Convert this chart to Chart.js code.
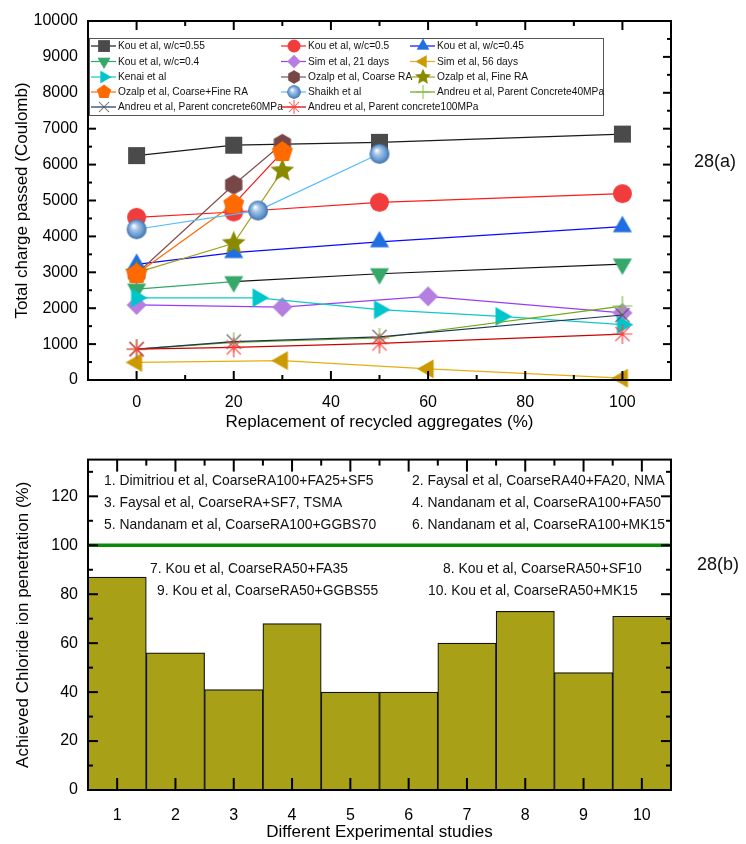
<!DOCTYPE html>
<html>
<head>
<meta charset="utf-8">
<title>Chloride ion penetration of recycled aggregate concrete</title>
<script src="https://cdn.jsdelivr.net/npm/chart.js@4/dist/chart.umd.min.js"></script>
<style>
  html, body { margin: 0; padding: 0; background: #fff; }
  #wrap { position: relative; width: 746px; height: 844px; overflow: hidden; }
  canvas { position: absolute; left: 0; }
  #chargeChart { top: 0; }
  #penetrationChart { top: 440px; }
  .panel-tag { position: absolute; font: 18px "Liberation Sans", Arial, sans-serif; color: #111; }
</style>
</head>
<body>
<div id="wrap">
  <canvas id="chargeChart" width="746" height="440"></canvas>
  <canvas id="penetrationChart" width="746" height="404"></canvas>
  <div class="panel-tag" style="left:694px; top:151px;">28(a)</div>
  <div class="panel-tag" style="left:697px; top:554px;">28(b)</div>
</div>
<script>
// ---------- Panel (a): total charge passed vs. replacement ratio ----------
const kouX = [0, 20, 50, 100];
const kouWc055 = [6250, 6540, 6620, 6850];
const kouWc050 = [4530, 4680, 4950, 5190];
const kouWc045 = [3220, 3550, 3850, 4270];
const kouWc040 = [2530, 2740, 2960, 3230];
const simX = [0, 30, 60, 100];
const sim21Days = [2090, 2030, 2330, 1870];
const sim56Days = [490, 540, 310, 50];
const kenaiX = [0, 25, 50, 75, 100];
const kenai = [2290, 2290, 1960, 1770, 1540];
const ozalpX = [0, 20, 30];
const ozalpCoarse = [2960, 5440, 6580];
const ozalpFine = [2990, 3810, 5830];
const ozalpCoarseFine = [2950, 4900, 6350];
const shaikhX = [0, 25, 50];
const shaikh = [4200, 4720, 6300];
const andreuX = [0, 20, 50, 100];
const andreu40MPa = [860, 1050, 1170, 2060];
const andreu60MPa = [860, 1070, 1200, 1810];
const andreu100MPa = [860, 910, 1020, 1280];

const replacementTicks = [0, 20, 40, 60, 80, 100];
const replacementMinorTicks = [10, 30, 50, 70, 90];
const chargeTicks = [0, 1000, 2000, 3000, 4000, 5000, 6000, 7000, 8000, 9000, 10000];
const chargeMinorTicks = [500, 1500, 2500, 3500, 4500, 5500, 6500, 7500, 8500, 9500];

// ---------- Panel (b): achieved chloride ion penetration ----------
const studies = ['1', '2', '3', '4', '5', '6', '7', '8', '9', '10'];
const penetration = [87, 56, 41, 68, 40, 40, 60, 73, 48, 71];
const referenceLevel = 100;
const penetrationTicks = [0, 20, 40, 60, 80, 100, 120];
const penetrationMinorTicks = [10, 30, 50, 70, 90, 110, 130];
const studyNotes = [
  '1. Dimitriou et al, CoarseRA100+FA25+SF5',
  '2. Faysal et al, CoarseRA40+FA20, NMA',
  '3. Faysal et al, CoarseRA+SF7, TSMA',
  '4. Nandanam et al, CoarseRA100+FA50',
  '5. Nandanam et al, CoarseRA100+GGBS70',
  '6. Nandanam et al, CoarseRA100+MK15',
  '7. Kou et al, CoarseRA50+FA35',
  '8. Kou et al, CoarseRA50+SF10',
  '9. Kou et al, CoarseRA50+GGBS55',
  '10. Kou et al, CoarseRA50+MK15'
];

const FONT = '"Liberation Sans", Arial, Helvetica, sans-serif';
Chart.defaults.font.family = FONT;
Chart.defaults.color = '#000';

// ---------- marker sprites ----------
function polygon(g, c, r, n, startDeg, inner) {
  const steps = inner ? n * 2 : n;
  for (let i = 0; i < steps; i++) {
    const a = (startDeg + i * 360 / steps) * Math.PI / 180;
    const rr = inner && i % 2 ? inner : r;
    const x = c + rr * Math.cos(a), y = c + rr * Math.sin(a);
    if (i === 0) g.moveTo(x, y); else g.lineTo(x, y);
  }
  g.closePath();
}

function makeMarker(shape, r, fill) {
  const size = Math.ceil(2 * r + 4);
  const cv = document.createElement('canvas');
  cv.width = cv.height = size;
  const g = cv.getContext('2d');
  const c = size / 2;
  g.fillStyle = fill;
  g.strokeStyle = fill;
  g.lineWidth = 1.2;
  g.beginPath();
  switch (shape) {
    case 'square': g.rect(c - r, c - r, 2 * r, 2 * r); g.fill(); break;
    case 'circle': g.arc(c, c, r, 0, Math.PI * 2); g.fill(); break;
    case 'triUp': polygon(g, c, r, 3, -90); g.fill(); break;
    case 'triDown': polygon(g, c, r, 3, 90); g.fill(); break;
    case 'triRight': polygon(g, c, r, 3, 0); g.fill(); break;
    case 'triLeft': polygon(g, c, r, 3, 180); g.fill(); break;
    case 'diamond': polygon(g, c, r, 4, -90); g.fill(); break;
    case 'hexagon': polygon(g, c, r, 6, -90); g.fill(); break;
    case 'pentagon': polygon(g, c, r, 5, -90); g.fill(); break;
    case 'star': polygon(g, c, r, 5, -90, r * 0.45); g.fill(); break;
    case 'sphere': {
      const grad = g.createRadialGradient(c - r * 0.3, c - r * 0.35, r * 0.05, c, c, r);
      grad.addColorStop(0, '#ffffff');
      grad.addColorStop(0.3, '#a9c8ea');
      grad.addColorStop(0.75, fill);
      grad.addColorStop(1, '#3f6ea6');
      g.fillStyle = grad;
      g.arc(c, c, r, 0, Math.PI * 2); g.fill(); break;
    }
    case 'plus':
      g.moveTo(c - r, c); g.lineTo(c + r, c); g.moveTo(c, c - r); g.lineTo(c, c + r); g.stroke(); break;
    case 'cross': {
      const d = r * Math.SQRT1_2;
      g.moveTo(c - d, c - d); g.lineTo(c + d, c + d); g.moveTo(c - d, c + d); g.lineTo(c + d, c - d); g.stroke(); break;
    }
    case 'asterisk': {
      const d = r * Math.SQRT1_2;
      g.moveTo(c - r, c); g.lineTo(c + r, c); g.moveTo(c, c - r); g.lineTo(c, c + r);
      g.moveTo(c - d, c - d); g.lineTo(c + d, c + d); g.moveTo(c - d, c + d); g.lineTo(c + d, c - d); g.stroke(); break;
    }
  }
  return cv;
}

function toPoints(xs, ys) { return xs.map((x, i) => ({ x: x, y: ys[i] })); }

function series(label, xs, ys, lineColor, shape, r, fill, laterColor) {
  const ds = {
    label: label,
    data: toPoints(xs, ys),
    borderColor: lineColor,
    borderWidth: 1.2,
    pointStyle: makeMarker(shape, r, fill),
    pointRadius: r,
    pointHoverRadius: r,
    fill: false,
    tension: 0,
    clip: false
  };
  if (laterColor) {
    ds.segment = { borderColor: ctx => (ctx.p0DataIndex >= 1 ? laterColor : undefined) };
  }
  return ds;
}

const chargeSeries = [
  series('Kou et al, w/c=0.55', kouX, kouWc055, '#1a1a1a', 'square', 8.5, '#4a4a4a'),
  series('Kou et al, w/c=0.5', kouX, kouWc050, '#ff1a1a', 'circle', 9.5, '#f03c3c'),
  series('Kou et al, w/c=0.45', kouX, kouWc045, '#0a0aff', 'triUp', 11, '#1f6fe0'),
  series('Kou et al, w/c=0.4', kouX, kouWc040, '#2eaa66', 'triDown', 11, '#35a86a', '#111111'),
  series('Sim et al, 21 days', simX, sim21Days, '#9b3cf5', 'diamond', 10, '#b57ee0'),
  series('Sim et al, 56 days', simX, sim56Days, '#e8ae10', 'triLeft', 11, '#cc9a00'),
  series('Kenai et al', kenaiX, kenai, '#10c8c8', 'triRight', 11, '#00c6cc'),
  series('Ozalp et al, Coarse RA', ozalpX, ozalpCoarse, '#80504f', 'hexagon', 10, '#774646'),
  series('Ozalp et al, Fine RA', ozalpX, ozalpFine, '#a0a020', 'star', 12.5, '#8a8a00'),
  series('Ozalp et al, Coarse+Fine RA', ozalpX, ozalpCoarseFine, '#ff6a00', 'pentagon', 11, '#ff6a00', '#ff1010'),
  series('Shaikh et al', shaikhX, shaikh, '#55bbff', 'sphere', 10, '#6497cf'),
  series('Andreu et al, Parent Concrete40MPa', andreuX, andreu40MPa, '#6aaa10', 'plus', 10, '#7cc242'),
  series('Andreu et al, Parent concrete60MPa', andreuX, andreu60MPa, '#1c3658', 'cross', 10, '#555555'),
  series('Andreu et al, Parent concrete100MPa', andreuX, andreu100MPa, '#cc0000', 'asterisk', 10, '#ff4040')
];
// later series are painted over earlier ones
chargeSeries.forEach((ds, i) => { ds.order = chargeSeries.length - i; });

// ---------- shared plugins ----------
function frameAndTicks(spec) {
  return {
    id: 'frameAndTicks',
    afterDatasetsDraw(chart) {
      const { ctx, chartArea: a, scales } = chart;
      const xs = scales.x, ys = scales.y;
      ctx.save();
      ctx.strokeStyle = '#000';
      ctx.lineCap = 'butt';
      const tick = (x1, y1, x2, y2, w) => {
        ctx.lineWidth = w; ctx.beginPath(); ctx.moveTo(x1, y1); ctx.lineTo(x2, y2); ctx.stroke();
      };
      spec.xBottom.forEach(t => { const p = spec.xPix(xs, t.v); tick(p, a.bottom, p, a.bottom - t.len, 2); });
      spec.xTop.forEach(t => { const p = spec.xPix(xs, t.v); tick(p, a.top, p, a.top + t.len, 2); });
      spec.yLeft.forEach(t => { const p = ys.getPixelForValue(t.v); tick(a.left, p, a.left + t.len, p, 2); });
      spec.yRight.forEach(t => { const p = ys.getPixelForValue(t.v); tick(a.right, p, a.right - t.len, p, 2); });
      ctx.lineWidth = 2;
      ctx.strokeRect(a.left, a.top, a.right - a.left, a.bottom - a.top);
      ctx.restore();
    }
  };
}

const majorMinor = (major, minor, lm, ln) =>
  major.map(v => ({ v: v, len: lm })).concat(minor.map(v => ({ v: v, len: ln })));

const plainNumber = v => String(v);

// legend for panel (a)
const legendPlugin = {
  id: 'studyLegend',
  afterDraw(chart) {
    const ctx = chart.ctx;
    const box = { x: 89, y: 38, w: 514, h: 77 };
    const colX = [104, 294, 423];
    const rowY = [46, 61.5, 77, 92, 107];
    const s = 0.68;
    ctx.save();
    ctx.fillStyle = '#fff';
    ctx.fillRect(box.x, box.y, box.w, box.h);
    ctx.strokeStyle = '#555';
    ctx.lineWidth = 1;
    ctx.strokeRect(box.x + 0.5, box.y + 0.5, box.w, box.h);
    ctx.font = '10.2px ' + FONT;
    ctx.textBaseline = 'middle';
    chart.data.datasets.forEach((ds, i) => {
      const cx = colX[i % 3], cy = rowY[Math.floor(i / 3)];
      ctx.strokeStyle = ds.borderColor;
      ctx.lineWidth = 1.2;
      ctx.beginPath(); ctx.moveTo(cx - 13, cy); ctx.lineTo(cx + 12, cy); ctx.stroke();
      const m = ds.pointStyle;
      ctx.drawImage(m, cx - m.width * s / 2, cy - m.height * s / 2, m.width * s, m.height * s);
      ctx.fillStyle = '#111';
      ctx.fillText(ds.label, cx + 14, cy + 0.5);
    });
    ctx.restore();
  }
};

// ---------- chart (a) ----------
new Chart(document.getElementById('chargeChart'), {
  type: 'scatter',
  data: { datasets: chargeSeries.map(ds => Object.assign({ showLine: true }, ds)) },
  options: {
    responsive: false,
    animation: false,
    devicePixelRatio: 1,
    layout: { padding: { top: 21, right: 75, left: 0, bottom: 0 } },
    plugins: { legend: { display: false }, tooltip: { enabled: false } },
    scales: {
      x: {
        type: 'linear', min: -10, max: 110,
        afterFit: s => { s.height = 60; },
        afterBuildTicks: s => { s.ticks = replacementTicks.map(v => ({ value: v })); },
        grid: { display: false, drawTicks: false },
        border: { display: false },
        ticks: { font: { size: 16 }, padding: 13, maxRotation: 0, autoSkip: false, callback: plainNumber },
        title: { display: true, text: 'Replacement of recycled aggregates (%)', font: { size: 17 }, padding: { top: 0, bottom: 7 } }
      },
      y: {
        type: 'linear', min: 0, max: 10000,
        afterFit: s => { s.width = 88; },
        afterBuildTicks: s => { s.ticks = chargeTicks.map(v => ({ value: v })); },
        grid: { display: false, drawTicks: false },
        border: { display: false },
        ticks: { font: { size: 16 }, padding: 10, autoSkip: false, callback: plainNumber },
        title: { display: true, text: 'Total charge passed (Coulomb)', font: { size: 17 }, padding: { top: 12, bottom: 0 } }
      }
    }
  },
  plugins: [
    frameAndTicks({
      xPix: (sc, v) => sc.getPixelForValue(v),
      xBottom: majorMinor(replacementTicks, replacementMinorTicks, 9, 5),
      xTop: majorMinor(replacementTicks, replacementMinorTicks, 9, 5),
      yLeft: majorMinor(chargeTicks, chargeMinorTicks, 8, 4),
      yRight: majorMinor(chargeTicks, chargeMinorTicks, 8, 4)
    }),
    legendPlugin
  ]
});

// ---------- chart (b) ----------
const notesPlugin = {
  id: 'studyNotes',
  afterDatasetsDraw(chart) {
    const { ctx, chartArea: a, scales } = chart;
    const yRef = scales.y.getPixelForValue(referenceLevel);
    ctx.save();
    ctx.strokeStyle = '#0a8a0a';
    ctx.lineWidth = 3.5;
    ctx.beginPath(); ctx.moveTo(a.left, yRef); ctx.lineTo(a.right, yRef); ctx.stroke();
    ctx.font = '13.9px ' + FONT;
    ctx.fillStyle = '#111';
    ctx.textBaseline = 'middle';
    const spots = [
      [104, 41], [412, 41],
      [104, 63], [412, 63],
      [104, 85], [412, 85],
      [150, 129], [443, 129],
      [157, 151], [428, 151]
    ];
    studyNotes.forEach((t, i) => ctx.fillText(t, spots[i][0], spots[i][1]));
    ctx.restore();
  }
};

const centreIdx = studies.map((_, i) => i);
const boundaryIdx = studies.slice(1).map((_, i) => i + 0.5);

new Chart(document.getElementById('penetrationChart'), {
  type: 'bar',
  data: {
    labels: studies,
    datasets: [{
      data: penetration,
      backgroundColor: '#a8a016',
      borderColor: '#111',
      borderWidth: 1.2,
      borderSkipped: 'start',
      barPercentage: 1,
      categoryPercentage: 1
    }]
  },
  options: {
    responsive: false,
    animation: false,
    devicePixelRatio: 1,
    layout: { padding: { top: 15, right: 75, left: 0, bottom: 0 } },
    plugins: { legend: { display: false }, tooltip: { enabled: false } },
    scales: {
      x: {
        type: 'category',
        afterFit: s => { s.height = 54; },
        grid: { display: false, drawTicks: false },
        border: { display: false },
        ticks: { font: { size: 16 }, padding: 16, maxRotation: 0, autoSkip: false },
        title: { display: true, text: 'Different Experimental studies', font: { size: 17 }, padding: { top: 0, bottom: 1 } }
      },
      y: {
        type: 'linear', min: 0, max: 135,
        afterFit: s => { s.width = 88; },
        afterBuildTicks: s => { s.ticks = penetrationTicks.map(v => ({ value: v })); },
        grid: { display: false, drawTicks: false },
        border: { display: false },
        ticks: { font: { size: 16 }, padding: 10, autoSkip: false, callback: plainNumber },
        title: { display: true, text: 'Achieved Chloride ion penetration (%)', font: { size: 17 }, padding: { top: 13, bottom: 0 } }
      }
    }
  },
  plugins: [
    notesPlugin,
    frameAndTicks({
      xPix: (sc, v) => {
        const lo = Math.floor(v), f = v - lo;
        const p0 = sc.getPixelForValue(lo);
        return f ? p0 + (sc.getPixelForValue(lo + 1) - p0) * f : p0;
      },
      xBottom: centreIdx.map(v => ({ v: v, len: 12 })),
      xTop: centreIdx.map(v => ({ v: v, len: 12 })).concat(boundaryIdx.map(v => ({ v: v, len: 6 }))),
      yLeft: majorMinor(penetrationTicks, penetrationMinorTicks, 10, 5),
      yRight: majorMinor(penetrationTicks, penetrationMinorTicks, 10, 5)
    })
  ]
});
</script>
</body>
</html>
